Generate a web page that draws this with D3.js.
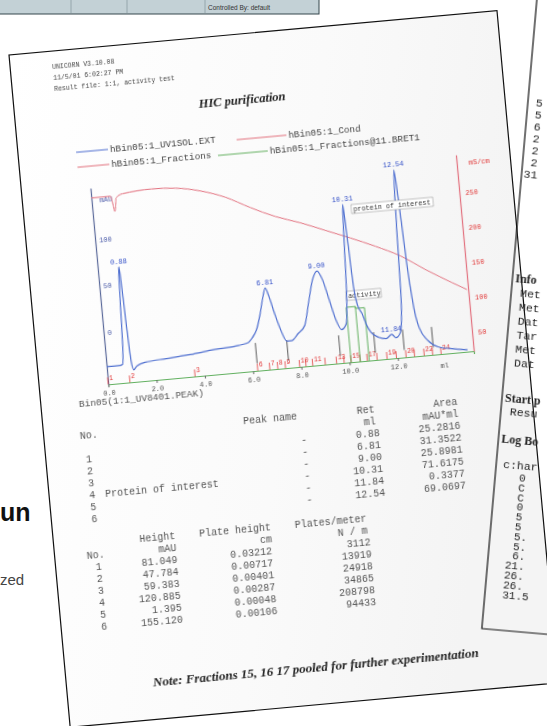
<!DOCTYPE html>
<html>
<head>
<meta charset="utf-8">
<script src="https://cdn.jsdelivr.net/npm/d3@7"></script>
<style>
  body { margin: 0; background: #fff; }
  svg { display: block; }
</style>
</head>
<body>
<svg id="scene"></svg>
<script>
const W = 547, H = 726;

// UV trace (ml, mAU)
const uvMl  = [0.0, 0.55, 0.66, 0.74, 0.80, 0.85, 0.88, 0.92, 0.97, 1.03, 1.10, 1.25, 1.6, 2.5, 3.5, 4.5, 5.5, 5.9, 6.1, 6.3, 6.5, 6.7, 6.81, 6.92, 7.1, 7.3, 7.5, 7.7, 8.0, 8.3, 8.55, 8.8, 9.0, 9.2, 9.4, 9.6, 9.8, 10.0, 10.15, 10.25, 10.31, 10.37, 10.45, 10.55, 10.7, 10.85, 11.0, 11.3, 11.6, 11.84, 12.0, 12.2, 12.35, 12.45, 12.54, 12.62, 12.72, 12.85, 13.0, 13.3, 13.7, 14.2, 14.9];
const uvMau = [-37, -37, -36, -15, 29, 63, 69, 46, 2, -34, -43, -39, -36, -34, -32, -29, -27, -25, -20, -12, 4, 24, 32, 24, 4, -15, -27, -27, -20, -12, 13, 37, 45, 35, 13, -9, -20, -15, 24, 85, 114, 79, 24, 4, -5, -18, -26, -32, -34, -30, -34, -29, 2, 90, 146, 113, 46, -4, -26, -40, -48, -51, -54];

// conductivity trace (ml, mS/cm)
const condMl  = [0, 0.8, 0.86, 0.92, 0.97, 1.02, 1.3, 2.5, 3.5, 4.5, 5.5, 6.5, 7.5, 8.5, 9.5, 10.5, 11.5, 12.5, 13.5, 14.5, 15.1];
const condVal = [290, 290, 280, 268, 275, 287, 292, 295, 293, 286, 274, 256, 240, 228, 214, 200, 185, 168, 145, 124, 112];

// fractions (start ml, label)
const fracMl     = [0, 0.9, 3.6, 6.2, 6.7, 7.03, 7.35, 7.94, 8.2, 8.48, 9.0, 9.47, 9.78, 10.07, 10.45, 10.74, 11.15, 11.56, 11.95, 12.35, 12.7, 13.1, 13.45, 13.8];
const fracLabels = ['1', '2', '3', '6', '7', '8', '9', '10', '', '11', '', '13', '', '15', '', '17', '', '19', '', '20', '', '22', '', '24'];

// activity (Fractions@11.BRET1)
const actMl  = [10.07, 10.45, 10.82];
const actVal = [28, 27];

// peak table
const peakNo     = ['1', '2', '3', '4', '5', '6'];
const peakName   = ['', '', '', 'Protein of interest', '', ''];
const peakRet    = [0.88, 6.81, 9.00, 10.31, 11.84, 12.54];
const peakTop    = [69, 32, 45, 114, -30, 146];
const peakArea   = ['25.2816', '31.3522', '25.8981', '71.6175', '0.3377', '69.0697'];
const peakHeight = ['81.049', '47.784', '59.383', '120.885', '1.395', '155.120'];
const plateH     = ['0.03212', '0.00717', '0.00401', '0.00287', '0.00048', '0.00106'];
const plateN     = ['3112', '13919', '24918', '34865', '208798', '94433'];

// peak window markers (ml)
const markMl = [6.2, 7.5, 9.65, 11.1, 12.3, 13.5];

const xTicks    = [0, 2, 4, 6, 8, 10, 12];
const yTicks    = [0, 50, 100];
const condTicks = [50, 100, 150, 200, 250];

const headerLines = ['UNICORN V3.10.08', '11/5/01 6:02:27 PM', 'Result file: 1:1, activity test'];

const svg = d3.select('#scene').attr('width', W).attr('height', H);

const defs = svg.append('defs');
defs.append('filter').attr('id', 'soft')
  .append('feGaussianBlur').attr('stdDeviation', 0.45);
const grad = defs.append('linearGradient').attr('id', 'paperfill')
  .attr('x1', 0).attr('y1', 0).attr('x2', 1).attr('y2', 0.3);
grad.append('stop').attr('offset', '0%').attr('stop-color', '#ffffff');
grad.append('stop').attr('offset', '60%').attr('stop-color', '#fafafa');
grad.append('stop').attr('offset', '100%').attr('stop-color', '#f4f4f4');

svg.append('rect').attr('width', W).attr('height', H).attr('fill', '#fff');

// toolbar strip top-left
const bar = svg.append('g');
bar.append('rect').attr('x', -2).attr('y', -2).attr('width', 321).attr('height', 16)
  .attr('fill', '#c3d1d6').attr('stroke', '#34464c').attr('stroke-width', 1);
[71, 127, 205].forEach(x => bar.append('line').attr('x1', x).attr('x2', x).attr('y1', 0).attr('y2', 13)
  .attr('stroke', '#95a6ac'));
bar.append('text').attr('x', 208).attr('y', 9.5).attr('font-family', 'Liberation Sans, Arial')
  .attr('font-size', 6.5).attr('fill', '#333').text('Controlled By: default');

// background text at the left edge (the page behind is cut off)
svg.append('text').attr('x', 0).attr('y', 521)
  .attr('font-family', 'Liberation Sans, Arial').attr('font-weight', 'bold')
  .attr('font-size', 25).attr('fill', '#111').text('un');
svg.append('text').attr('x', 0).attr('y', 585)
  .attr('font-family', 'Liberation Sans, Arial').attr('font-size', 15)
  .attr('fill', '#444').text('zed');

// main printout
const paper = svg.append('g').attr('transform', 'translate(9,55) rotate(-5.2)');
paper.append('rect').attr('width', 490).attr('height', 675)
  .attr('fill', 'url(#paperfill)').attr('stroke', '#111').attr('stroke-width', 1.2);

const g = paper.append('g').attr('filter', 'url(#soft)');
const mono = 'Liberation Mono, Courier New, monospace';
const ink = '#555';

headerLines.forEach((t, i) => g.append('text').attr('x', 42).attr('y', 18 + i * 11)
  .attr('font-family', mono).attr('font-size', 6.5).attr('fill', '#444').text(t));

g.append('text').attr('x', 228).attr('y', 70).attr('text-anchor', 'middle')
  .attr('font-family', 'Liberation Serif, Times New Roman, serif').attr('font-style', 'italic')
  .attr('font-weight', 'bold').attr('font-size', 12.5).attr('fill', '#222').text('HIC purification');

// scales
const x = d3.scaleLinear().domain([0, 15.15]).range([69, 436]);
const yL = d3.scaleLinear().domain([-56, 156]).range([337, 140]);
const yR = d3.scaleLinear().domain([24, 304]).range([337, 140]);
const yA = d3.scaleLinear().domain([0, 100]).range([337, 140]);

const blue = '#4f6fd0', red = '#e2707e', fracRed = '#e23a3a', green = '#62b060';

// legend
const legend = [
  { x: 58, len: 32, y: 106, c: blue, t: 'hBin05:1_UV1SOL.EXT' },
  { x: 58, len: 32, y: 121, c: red, t: 'hBin05:1_Fractions' },
  { x: 219, len: 50, y: 108, c: red, t: 'hBin05:1_Cond' },
  { x: 199, len: 50, y: 122, c: green, t: 'hBin05:1_Fractions@11.BRET1' }
];
legend.forEach(d => {
  g.append('line').attr('x1', d.x).attr('x2', d.x + d.len).attr('y1', d.y - 3).attr('y2', d.y - 3)
    .attr('stroke', d.c).attr('stroke-width', 1);
  g.append('text').attr('x', d.x + d.len + 2).attr('y', d.y).attr('font-family', mono)
    .attr('font-size', 9.3).attr('fill', '#444').text(d.t);
});

// axes
const xAxis = g.append('g').attr('transform', 'translate(0,337)')
  .call(d3.axisBottom(x).tickValues(xTicks).tickSize(3).tickFormat(d3.format('.1f')));
xAxis.select('.domain').attr('stroke', green).attr('stroke-width', 1.2);
xAxis.selectAll('.tick line').attr('stroke', '#666');
xAxis.selectAll('text').attr('font-family', mono).attr('font-size', 7).attr('fill', ink);
xAxis.append('text').attr('x', x(13.9)).attr('y', 14).attr('font-family', mono)
  .attr('font-size', 7).attr('fill', ink).attr('text-anchor', 'middle').text('ml');

const yAxis = g.append('g').attr('transform', 'translate(69,0)')
  .call(d3.axisRight(yL).tickValues(yTicks).tickSize(0).tickPadding(4));
yAxis.select('.domain').attr('stroke', '#5a6a9a').attr('stroke-width', 1.2);
yAxis.selectAll('text').attr('font-family', mono).attr('font-size', 7).attr('fill', '#4a5aa8');
yAxis.append('text').attr('x', 8).attr('y', 155).attr('font-family', mono)
  .attr('font-size', 7).attr('fill', '#4a5aa8').text('mAU');

const rAxis = g.append('g').attr('transform', 'translate(436,0)')
  .call(d3.axisRight(yR).tickValues(condTicks).tickSize(0).tickPadding(6));
rAxis.select('.domain').attr('stroke', red).attr('stroke-width', 1.2);
rAxis.selectAll('text').attr('font-family', mono).attr('font-size', 7).attr('fill', fracRed);
rAxis.append('text').attr('x', 12).attr('y', 151).attr('font-family', mono)
  .attr('font-size', 7).attr('fill', fracRed).text('mS/cm');

// conductivity
g.append('path')
  .attr('d', d3.line().x((d, i) => x(condMl[i])).y(d => yR(d)).curve(d3.curveMonotoneX)(condVal))
  .attr('fill', 'none').attr('stroke', red).attr('stroke-width', 1);

// fractions
fracMl.forEach((m, i) => {
  g.append('line').attr('x1', x(m)).attr('x2', x(m)).attr('y1', 337).attr('y2', 330)
    .attr('stroke', fracRed).attr('stroke-width', 0.8);
  if (fracLabels[i]) {
    g.append('text').attr('x', x(m) + 1.5).attr('y', 333)
      .attr('font-family', mono).attr('font-size', 6.5).attr('fill', fracRed).text(fracLabels[i]);
  }
});

// activity steps
const actPts = [[actMl[0], 0]];
actVal.forEach((v, i) => { actPts.push([actMl[i], v]); actPts.push([actMl[i + 1], v]); });
actPts.push([actMl[actMl.length - 1], 0]);
g.append('path')
  .attr('d', d3.line().x(d => x(d[0])).y(d => yA(d[1]))(actPts))
  .attr('fill', 'none').attr('stroke', green).attr('stroke-width', 1);
actMl.slice(1, -1).forEach(m => g.append('line').attr('x1', x(m)).attr('x2', x(m))
  .attr('y1', yA(0)).attr('y2', yA(28)).attr('stroke', green).attr('stroke-width', 1));
g.append('rect').attr('x', 314).attr('y', 266).attr('width', 35).attr('height', 9)
  .attr('fill', '#fff').attr('stroke', '#888').attr('stroke-width', 0.5);
g.append('text').attr('x', 316).attr('y', 273)
  .attr('font-family', mono).attr('font-size', 6.8).attr('fill', '#333').text('activity');

// peak window markers
markMl.forEach(m => g.append('line').attr('x1', x(m)).attr('x2', x(m))
  .attr('y1', yL(-26)).attr('y2', yL(-48)).attr('stroke', '#333').attr('stroke-width', 0.8));

// UV trace
g.append('path')
  .attr('d', d3.line().x((d, i) => x(uvMl[i])).y(d => yL(d)).curve(d3.curveMonotoneX)(uvMau))
  .attr('fill', 'none').attr('stroke', blue).attr('stroke-width', 1.2);

// peak labels
peakRet.forEach((r, i) => {
  g.append('text').attr('x', x(r)).attr('y', yL(peakTop[i]) - 3).attr('text-anchor', 'middle')
    .attr('font-family', mono).attr('font-size', 7).attr('fill', '#3350c8').text(r.toFixed(2));
});
g.append('rect').attr('x', 327).attr('y', 180).attr('width', 82).attr('height', 9)
  .attr('fill', '#fff').attr('stroke', '#888').attr('stroke-width', 0.5);
g.append('text').attr('x', 329).attr('y', 187)
  .attr('font-family', mono).attr('font-size', 6.8).attr('fill', '#333').text('protein of interest');

g.append('text').attr('x', 38).attr('y', 357).attr('font-family', mono).attr('font-size', 9.5)
  .attr('fill', ink).text('Bin05(1:1_UV8401.PEAK)');

// peak table
const t1 = g.append('g').attr('font-family', mono).attr('font-size', 10).attr('fill', ink);
t1.append('text').attr('x', 36).attr('y', 389).text('No.');
t1.append('text').attr('x', 200).attr('y', 389).text('Peak name');
t1.append('text').attr('x', 332).attr('y', 389).attr('text-anchor', 'end').text('Ret');
t1.append('text').attr('x', 332).attr('y', 401).attr('text-anchor', 'end').text('ml');
t1.append('text').attr('x', 415).attr('y', 389).attr('text-anchor', 'end').text('Area');
t1.append('text').attr('x', 415).attr('y', 401).attr('text-anchor', 'end').text('mAU*ml');
peakNo.forEach((n, i) => {
  const yy = 413 + i * 12;
  t1.append('text').attr('x', 40).attr('y', yy).text(n);
  t1.append('text').attr('x', 56).attr('y', yy).text(peakName[i]);
  t1.append('text').attr('x', 256).attr('y', yy).text('-');
  t1.append('text').attr('x', 335).attr('y', yy).attr('text-anchor', 'end').text(peakRet[i].toFixed(2));
  t1.append('text').attr('x', 416).attr('y', yy).attr('text-anchor', 'end').text(peakArea[i]);
});

const t2 = g.append('g').attr('font-family', mono).attr('font-size', 10).attr('fill', ink);
t2.append('text').attr('x', 32).attr('y', 509).text('No.');
t2.append('text').attr('x', 122).attr('y', 497).attr('text-anchor', 'end').text('Height');
t2.append('text').attr('x', 122).attr('y', 509).attr('text-anchor', 'end').text('mAU');
t2.append('text').attr('x', 218).attr('y', 497).attr('text-anchor', 'end').text('Plate height');
t2.append('text').attr('x', 218).attr('y', 509).attr('text-anchor', 'end').text('cm');
t2.append('text').attr('x', 314).attr('y', 497).attr('text-anchor', 'end').text('Plates/meter');
t2.append('text').attr('x', 314).attr('y', 509).attr('text-anchor', 'end').text('N / m');
peakNo.forEach((n, i) => {
  const yy = 521 + i * 12;
  t2.append('text').attr('x', 40).attr('y', yy).text(n);
  t2.append('text').attr('x', 122).attr('y', yy).attr('text-anchor', 'end').text(peakHeight[i]);
  t2.append('text').attr('x', 217).attr('y', yy).attr('text-anchor', 'end').text(plateH[i]);
  t2.append('text').attr('x', 316).attr('y', yy).attr('text-anchor', 'end').text(plateN[i]);
});

g.append('text').attr('x', 250).attr('y', 642).attr('text-anchor', 'middle')
  .attr('font-family', 'Liberation Serif, Times New Roman, serif').attr('font-style', 'italic')
  .attr('font-weight', 'bold').attr('font-size', 13).attr('fill', '#222')
  .text('Note: Fractions 15, 16 17 pooled for further experimentation');

// second printout (right), outline only so both edges show
const p2 = svg.append('g').attr('transform', 'translate(537,-2) rotate(5)');
p2.append('path').attr('d', 'M0,-20 L0,633 L120,633')
  .attr('fill', 'none').attr('stroke', '#111').attr('stroke-width', 1.2);
const p2top = ['5', '5', '6', '2', '2', '2', '31'];
p2top.forEach((t, i) => p2.append('text').attr('x', t.length > 1 ? 2 : 8).attr('y', 108 + i * 12)
  .attr('font-family', 'Liberation Mono, monospace').attr('font-size', 11.5).attr('fill', '#222').text(t));
const p2blocks = [
  { y: 285, t: 'Info', bold: true, x: 3 },
  { y: 299, t: 'Met', x: 9 }, { y: 313, t: 'Met', x: 9 }, { y: 327, t: 'Dat', x: 9 },
  { y: 341, t: 'Tar', x: 9 }, { y: 355, t: 'Met', x: 9 }, { y: 369, t: 'Dat', x: 9 },
  { y: 405, t: 'Start\u00a0p', bold: true, x: 3 }, { y: 418, t: 'Resu', x: 9 },
  { y: 446, t: 'Log\u00a0Bo', bold: true, x: 3 }, { y: 471, t: 'c:har', x: 7 }
];
p2blocks.forEach(b => p2.append('text').attr('x', b.x).attr('y', b.y)
  .attr('font-family', b.bold ? 'Liberation Serif, serif' : 'Liberation Mono, monospace')
  .attr('font-weight', b.bold ? 'bold' : 'normal')
  .attr('font-size', b.bold ? 12 : 11.5).attr('fill', '#222').text(b.t));
const logLines = ['0', 'C', 'C', '0', '5', '5', '5.', '5.', '6.', '21.', '26.', '26.', '31.5'];
logLines.forEach((t, i) => p2.append('text')
  .attr('x', /^\d\d/.test(t) ? 17.5 : 24).attr('y', 483 + i * 9.8)
  .attr('font-family', 'Liberation Mono, monospace').attr('font-size', 11).attr('fill', '#222').text(t));
</script>
</body>
</html>
